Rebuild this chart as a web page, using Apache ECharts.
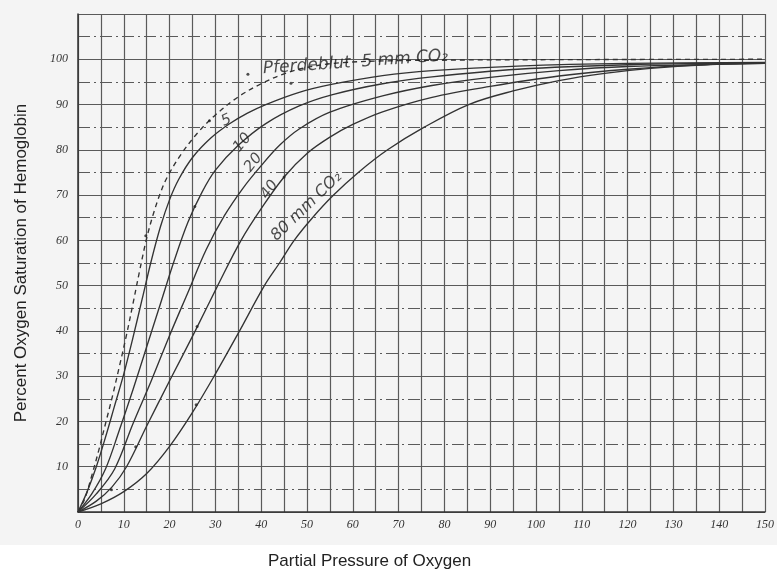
<!DOCTYPE html>
<html>
<head>
<meta charset="utf-8">
<script src="https://cdn.jsdelivr.net/npm/echarts@6/dist/echarts.min.js"></script>
<style>html,body{margin:0;padding:0;background:#fff}#c{width:777px;height:580px}</style>
</head>
<body>
<div id="c"></div>
<script>
// ---- data (pO2 mmHg, % saturation) ----
const pferdeblut5 = [[0,0],[1.5,3],[3,8],[4.5,13.5],[6,19.5],[7.5,25.5],[9,32],[10.5,38.7],[12,46],[13.5,53.5],[15,60.5],[16.5,66],[18,70.5],[19.5,74],[22.5,79],[26,83.6],[30,87.7],[35,91.7],[40,94.6],[45,96.8],[50,98.2],[57,99.2],[70,99.7],[100,99.9],[150,100]];
const co2_5  = [[0,0],[2,4.5],[4,10],[6,16.5],[8,23.5],[10,30.5],[12,38.5],[14,47],[16,55.5],[18,63],[20,69],[22,73.5],[25,78.3],[29,82.6],[33,85.7],[37,88.1],[41,90],[48.3,92.7],[55.6,94.5],[66.5,96.4],[77.3,97.5],[96,98.5],[120,99.1],[150,99.3]];
const co2_10 = [[0,0],[3,4],[6,9.5],[9,18],[12,27],[15,36.5],[18,46],[21,55.5],[24,64],[27,70.5],[30,75.5],[35,81],[41,85.8],[48.3,89.7],[55.6,92.2],[66.5,94.6],[77.3,96.1],[96,97.8],[120,98.8],[150,99.2]];
const co2_20 = [[0,0],[4,4],[8,9.5],[12,19.5],[16,29],[20,39],[24,48.5],[28,58],[32,65.5],[36,71.5],[40,76.5],[44,81],[48.3,84.6],[55,88.3],[66.5,91.9],[77.3,94.2],[90,96],[105,97.5],[120,98.4],[150,99.1]];
const co2_40 = [[0,0],[4,2.4],[7.4,5.5],[10.6,10],[15,19],[20,29],[25.6,40],[30.5,50],[35.6,60],[40,67],[45,74],[50,79.2],[55,82.8],[60,85.6],[66.5,88.4],[77.3,91.6],[90,94],[105,96.3],[120,97.8],[135,98.7],[150,99.1]];
const co2_80 = [[0,0],[5,1.8],[10,4.5],[15,8.5],[20,14.5],[25,22],[30,30.5],[35,39.5],[40.7,50],[44,55],[47.2,60],[51.2,65],[55.8,70],[61.2,75],[67.6,80],[75.6,85],[85.3,90],[95,93],[105,95.3],[115,96.9],[125,98],[137,98.8],[150,99.2]];
const observations = [[37.1,96.7],[46.5,94.7],[28.7,86.4],[14.8,61],[25.5,67.5],[26,41],[12.6,14.4],[7.3,4.9],[25.8,23.7],[45,74]];

// curve labels: text, position, rotation
const labelTexts = ['Pferdeblut  5 mm CO\u2082', '5', '10', '20', '40', '80 mm CO\u2082'];
const labelPos   = [[60.6,99.3],[32.4,86.5],[35.9,81.6],[38.3,77.2],[41.8,71.2],[49.9,67.5]];
const labelRot   = [4, 25, 50, 52, 55, 44];
const labelSize  = [17, 15, 15, 15, 15, 16];

const xTickStep = 5, yTickStep = 10;
const xTitle = 'Partial Pressure of Oxygen';
const yTitle = 'Percent Oxygen Saturation of Hemoglobin';

const chart = echarts.init(document.getElementById('c'), null, {renderer:'canvas'});
const ink = '#333333';
const gridLine = '#5a5a5a';
function curve(name, data, dashed){
  return {name, type:'line', data, smooth:0.35, symbol:'none',
    lineStyle:{color:ink, width:1.35, type: dashed ? [5,4] : 'solid'}, z:5};
}
chart.setOption({
  animation:false,
  backgroundColor:'#f4f4f4',
  graphic:[
    {type:'rect', left:0, top:545, shape:{width:777, height:35}, style:{fill:'#ffffff'}, z:-1},
    {type:'text', left:268, top:553, style:{text:xTitle, font:'17px "Liberation Sans", Arial, sans-serif', fill:'#222'}}
  ],
  grid:{left:78, right:10, top:14, bottom:68},
  xAxis:{type:'value', min:0, max:150, interval:xTickStep,
    axisLine:{show:true, lineStyle:{color:'#333', width:1.5}},
    axisTick:{show:false},
    axisLabel:{margin:7, color:'#333', fontFamily:'"Liberation Serif", serif', fontStyle:'italic', fontSize:12,
      formatter:v => (v % 10 === 0) ? String(v) : ''},
    splitLine:{show:true, lineStyle:{color:gridLine, width:1.2}}
  },
  yAxis:{type:'value', min:0, max:110, interval:yTickStep,
    name:yTitle, nameLocation:'middle', nameGap:48,
    nameTextStyle:{fontFamily:'"Liberation Sans", Arial, sans-serif', fontSize:17, color:'#222'},
    axisLine:{show:true, lineStyle:{color:'#333', width:1.5}},
    axisTick:{show:false},
    minorTick:{show:false, splitNumber:2},
    minorSplitLine:{show:true, lineStyle:{color:gridLine, width:1.1, type:[12,4,2,4]}},
    axisLabel:{margin:10, color:'#333', fontFamily:'"Liberation Serif", serif', fontStyle:'italic', fontSize:12,
      formatter:v => (v === 0 || v === 110) ? '' : String(v)},
    splitLine:{show:true, lineStyle:{color:gridLine, width:1.2}}
  },
  series:[
    curve('Pferdeblut 5 mm CO2', pferdeblut5, true),
    curve('5 mm CO2', co2_5),
    curve('10 mm CO2', co2_10),
    curve('20 mm CO2', co2_20),
    curve('40 mm CO2', co2_40),
    curve('80 mm CO2', co2_80),
    {type:'scatter', data:observations, symbolSize:3, itemStyle:{color:'#222'}, z:6},
    {type:'scatter', symbolSize:0, z:7,
      data: labelPos.map((p,i)=>({value:p, label:{show:true, formatter:labelTexts[i], rotate:labelRot[i], fontSize:labelSize[i]}})),
      label:{show:true, position:'inside', color:'#1e1e1e', fontStyle:'italic',
        fontFamily:'"DejaVu Sans", sans-serif', fontSize:14}
    }
  ]
});
</script>
</body>
</html>
